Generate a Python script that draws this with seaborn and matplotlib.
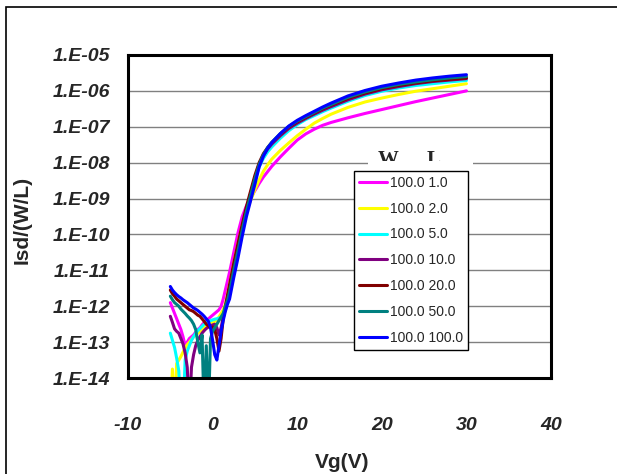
import numpy as np
import pandas as pd
import matplotlib
matplotlib.use("Agg")
import matplotlib.pyplot as plt
import seaborn as sns
from matplotlib.patches import Rectangle
from matplotlib.ticker import FixedLocator, FuncFormatter, NullLocator

# gate voltage grid (V)
vg = [-5, -4.75, -4.5, -4.25, -4, -3.75, -3.5, -3.25, -3, -2.75,
      -2.5, -2.25, -2, -1.75, -1.5, -1.25, -1, -0.75, -0.5, -0.25,
      0, 0.25, 0.5, 0.75, 1, 1.25, 1.5, 1.75, 2,
      2.5, 3, 3.5, 4, 4.5, 5, 5.5, 6, 6.5, 7,
      8, 9, 10, 11, 12, 13, 14, 16, 18, 20,
      22, 24, 26, 28, 30]

# log10 of Isd/(W/L), one list per W/L device
log_l1 = [-11.9, -12.05, -12.2, -12.35, -12.5, -12.65, -12.85, -13.1, -13.0, -12.9,
          -12.85, -12.8, -12.72, -12.65, -12.6, -12.52, -12.45, -12.4, -12.35, -12.3,
          -12.25, -12.2, -12.15, -12.1, -12.0, -11.8, -11.55, -11.3, -11.05,
          -10.5, -9.95, -9.5, -9.2, -8.98, -8.78, -8.58, -8.4, -8.25, -8.1,
          -7.84, -7.6, -7.37, -7.2, -7.07, -6.96, -6.88, -6.75, -6.63, -6.52,
          -6.41, -6.3, -6.2, -6.1, -6.0]
log_l2 = [-15, -13.75, -15, -13.6, -13.5, -13.4, -13.28, -13.17, -13.07, -13.0,
          -12.93, -12.85, -12.8, -12.75, -12.7, -12.65, -12.6, -12.56, -12.52, -12.48,
          -12.45, -12.42, -12.38, -12.3, -12.2, -12.1, -11.95, -11.7, -11.4,
          -10.8, -10.25, -9.75, -9.35, -9.05, -8.75, -8.48, -8.24, -8.06, -7.9,
          -7.66, -7.45, -7.25, -7.07, -6.9, -6.77, -6.65, -6.46, -6.31, -6.2,
          -6.1, -6.01, -5.94, -5.87, -5.8]
log_l5 = [-12.75, -12.95, -13.15, -13.45, -13.8, -15, -15, -13.5, -13.25, -13.1,
          -12.95, -12.85, -12.75, -12.68, -12.62, -12.56, -12.5, -12.45, -12.42, -12.4,
          -12.38, -12.36, -12.35, -12.33, -12.3, -12.22, -12.1, -11.85, -11.5,
          -10.9, -10.35, -9.8, -9.3, -8.88, -8.48, -8.12, -7.88, -7.7, -7.56,
          -7.32, -7.11, -6.94, -6.8, -6.69, -6.58, -6.48, -6.29, -6.13, -6.01,
          -5.92, -5.85, -5.8, -5.75, -5.71]
log_l10 = [-12.28, -12.45, -12.63, -12.7, -12.75, -12.9, -13.05, -13.3, -13.7, -15,
           -13.7, -13.35, -13.1, -12.95, -12.85, -12.75, -12.68, -12.62, -12.58, -12.55,
           -12.52, -12.5, -12.6, -12.8, -12.6, -12.3, -12.1, -11.85, -11.5,
           -10.9, -10.35, -9.8, -9.3, -8.85, -8.42, -8.06, -7.8, -7.62, -7.48,
           -7.25, -7.05, -6.9, -6.77, -6.65, -6.54, -6.44, -6.25, -6.09, -5.97,
           -5.88, -5.8, -5.74, -5.7, -5.66]
log_l20 = [-11.55, -11.65, -11.72, -11.8, -11.85, -11.9, -11.95, -12.0, -12.05, -12.1,
           -12.12, -12.15, -12.2, -12.25, -12.28, -12.35, -12.42, -12.5, -12.55, -12.6,
           -12.58, -12.65, -12.9, -13.25, -12.9, -12.35, -12.0, -11.7, -11.4,
           -10.8, -10.25, -9.72, -9.22, -8.78, -8.35, -8.0, -7.75, -7.58, -7.44,
           -7.21, -7.01, -6.86, -6.74, -6.62, -6.5, -6.4, -6.21, -6.06, -5.94,
           -5.85, -5.78, -5.72, -5.68, -5.64]
log_l50 = [-11.72, -11.82, -11.9, -11.95, -12.0, -12.08, -12.14, -12.2, -12.27, -12.33,
           -12.4, -12.5, -12.65, -13.0, -13.3, -12.8, -15, -13.1, -15, -12.9,
           -12.7, -12.6, -12.5, -12.4, -12.3, -12.2, -12.0, -11.85, -11.6,
           -11.0, -10.45, -9.88, -9.35, -8.9, -8.45, -8.05, -7.78, -7.58, -7.43,
           -7.19, -6.99, -6.84, -6.72, -6.6, -6.48, -6.38, -6.18, -6.03, -5.91,
           -5.82, -5.75, -5.69, -5.64, -5.6]
log_l100 = [-11.45, -11.55, -11.62, -11.68, -11.73, -11.77, -11.82, -11.86, -11.9, -11.95,
            -12.0, -12.05, -12.08, -12.12, -12.17, -12.22, -12.28, -12.35, -12.42, -12.6,
            -12.95, -13.35, -13.5, -13.1, -12.7, -12.4, -12.15, -11.95, -11.8,
            -11.2, -10.65, -10.05, -9.5, -9.05, -8.6, -8.12, -7.82, -7.6, -7.44,
            -7.19, -6.98, -6.82, -6.69, -6.57, -6.45, -6.34, -6.14, -5.99, -5.87,
            -5.78, -5.7, -5.64, -5.59, -5.55]

labels = ["100.0 1.0", "100.0 2.0", "100.0 5.0", "100.0 10.0",
          "100.0 20.0", "100.0 50.0", "100.0 100.0"]
colors = ["#FF00FF", "#FFFF00", "#00FFFF", "#800080",
          "#800000", "#008080", "#0000FF"]
series = [log_l1, log_l2, log_l5, log_l10, log_l20, log_l50, log_l100]

y_ticks = [1e-14, 1e-13, 1e-12, 1e-11, 1e-10, 1e-9, 1e-8, 1e-7, 1e-6, 1e-5]
x_ticks = [-10, 0, 10, 20, 30, 40]

rows = []
for lab, logs in zip(labels, series):
    for v, lg in zip(vg, logs):
        rows.append({"Vg": v, "Isd": 10.0 ** lg, "WL": lab})
df = pd.DataFrame(rows)

sns.set_theme(style="white")
plt.rcParams['font.family'] = ['Liberation Sans', 'DejaVu Sans']
plt.rcParams['axes.unicode_minus'] = False

fig = plt.figure(figsize=(6.17, 4.74), dpi=100)
ax = fig.add_axes([0.2075, 0.2025, 0.6856, 0.6815])

sns.lineplot(data=df, x="Vg", y="Isd", hue="WL", hue_order=labels,
             palette=dict(zip(labels, colors)), estimator=None, sort=False,
             linewidth=2.2, ax=ax)

ax.set_yscale("log")
ax.set_ylim(1e-14, 1e-5)
ax.set_xlim(-10, 40)
ax.yaxis.set_major_locator(FixedLocator(y_ticks))
ax.yaxis.set_minor_locator(NullLocator())
ax.yaxis.set_major_formatter(FuncFormatter(lambda v, p: "1.E-%02d" % abs(int(round(np.log10(v))))))
ax.xaxis.set_major_locator(FixedLocator(x_ticks))
ax.set_xlabel("")
ax.set_ylabel("")

ax.grid(axis="y", color="#808080", linewidth=1.0)
ax.grid(axis="x", visible=False)
for s in ax.spines.values():
    s.set_color("black")
    s.set_linewidth(2.2)

ax.tick_params(axis="both", length=0, labelsize=14)
ax.tick_params(axis="y", pad=13)
ax.tick_params(axis="x", pad=28)
for t in ax.get_xticklabels() + ax.get_yticklabels():
    t.set_fontweight("bold")
    t.set_fontstyle("italic")

fig.text(342 / 617, 1 - 462 / 474, "Vg(V)", ha="center", va="center",
         fontsize=15, fontweight="bold")
fig.text(22 / 617, 1 - 220 / 474, "Isd/(W/L)", ha="center", va="center",
         rotation=90, fontsize=15, fontweight="bold")

# legend with clipped "W  L" title above it
handles, labs = ax.get_legend_handles_labels()
leg = ax.legend(handles, labs, loc="upper left", bbox_to_anchor=(0.534, 0.641),
                borderaxespad=0, fontsize=10, frameon=True, fancybox=False,
                framealpha=1, edgecolor="black", handlelength=2.0,
                handletextpad=0.25, labelspacing=0.85, borderpad=0.35)
leg.get_frame().set_linewidth(1.0)
leg.set_zorder(10)
for h in leg.get_lines():
    h.set_linewidth(2.2)

ax.add_patch(Rectangle((0.567, 0.641), 0.249, 0.08, transform=ax.transAxes,
                       facecolor="white", edgecolor="none", zorder=4))
ax.text(0.615, 0.659, "W", transform=ax.transAxes, ha="center", va="baseline",
        fontsize=15, fontweight="bold", family="Liberation Serif", zorder=5)
ax.text(0.723, 0.659, "L", transform=ax.transAxes, ha="center", va="baseline",
        fontsize=15, fontweight="bold", family="Liberation Serif", zorder=5)
ax.add_patch(Rectangle((0.567, 0.641), 0.249, 0.031, transform=ax.transAxes,
                       facecolor="white", edgecolor="none", zorder=6))

# outer chart border (only left/top visible in the crop)
fig.add_artist(Rectangle((6 / 617, -0.1), 1.2, 1.1 - 7 / 474, transform=fig.transFigure,
                         facecolor="none", edgecolor="black", linewidth=1.2))

fig.savefig("out.png", dpi=100)
